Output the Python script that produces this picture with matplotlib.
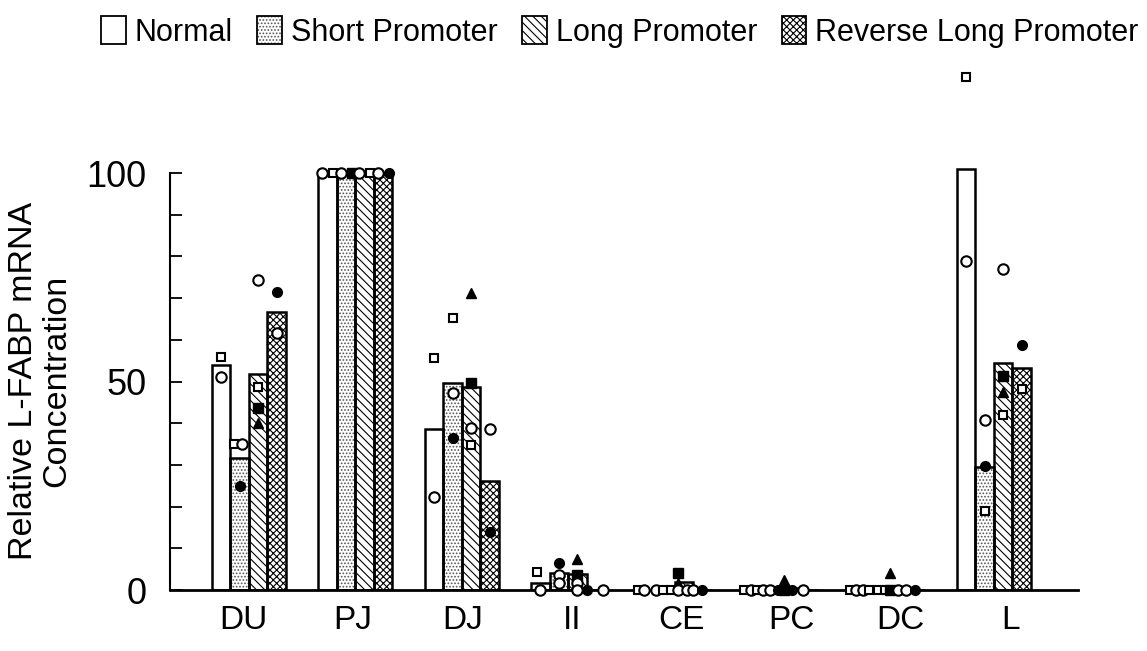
import matplotlib
matplotlib.use("Agg")
import matplotlib.pyplot as plt
from matplotlib.patches import Patch
import numpy as np

plt.rcParams['font.family'] = ['Liberation Sans', 'DejaVu Sans']
plt.rcParams['hatch.linewidth'] = 0.8

groups = ['DU', 'PJ', 'DJ', 'II', 'CE', 'PC', 'DC', 'L']
series = ['Normal', 'Short Promoter', 'Long Promoter', 'Reverse Long Promoter']

normal = [54.0, 100.0, 38.6, 1.7, 0.0, 0.0, 0.0, 101.0]
short_promoter = [31.6, 100.0, 49.6, 4.0, 0.0, 0.0, 0.0, 29.5]
long_promoter = [51.8, 100.0, 48.7, 3.8, 2.0, 0.5, 0.5, 54.4]
reverse_long = [66.6, 100.0, 26.1, 0.0, 0.0, 0.0, 0.0, 53.2]

# individual animals: (group, series, marker kind, value)
# kinds: 'o' open circle, 's' open square, 'S' filled square, 'O' filled circle, '^' filled triangle
points = [
    ('DU', 0, 's', 56.0), ('DU', 0, 'o', 51.0),
    ('DU', 1, 's', 35.0), ('DU', 1, 'o', 35.0), ('DU', 1, 'O', 25.0),
    ('DU', 2, 'o', 74.3), ('DU', 2, 's', 48.7), ('DU', 2, 'S', 43.6), ('DU', 2, '^', 40.0),
    ('DU', 3, 'O', 71.5), ('DU', 3, 'o', 61.6),
    ('PJ', 0, 'o', 100.0), ('PJ', 0, 's', 100.0),
    ('PJ', 1, 'o', 100.0), ('PJ', 1, 'S', 100.0),
    ('PJ', 2, 'o', 100.0), ('PJ', 2, 's', 100.0),
    ('PJ', 3, 'o', 100.0), ('PJ', 3, 'O', 100.0),
    ('DJ', 0, 's', 55.6), ('DJ', 0, 'o', 22.3),
    ('DJ', 1, 's', 65.2), ('DJ', 1, 'o', 47.2), ('DJ', 1, 'O', 36.5),
    ('DJ', 2, '^', 71.2), ('DJ', 2, 'S', 49.6), ('DJ', 2, 'o', 38.8), ('DJ', 2, 's', 34.8),
    ('DJ', 3, 'o', 38.6), ('DJ', 3, 'O', 13.9),
    ('II', 0, 's', 4.3), ('II', 0, 'o', 0.0),
    ('II', 1, 'O', 6.5), ('II', 1, 'o', 3.6), ('II', 1, 'o', 1.7),
    ('II', 2, '^', 7.4), ('II', 2, 'S', 3.6), ('II', 2, 'o', 1.7), ('II', 2, 'o', 0.0),
    ('II', 3, 'O', 0.0), ('II', 3, 'o', 0.0),
    ('CE', 0, 's', 0.0), ('CE', 0, 'o', 0.0),
    ('CE', 1, 'o', 0.0), ('CE', 1, 's', 0.0), ('CE', 1, 's', 0.0),
    ('CE', 2, 'S', 4.0), ('CE', 2, '^', 1.7), ('CE', 2, 'o', 0.0), ('CE', 2, 'o', 0.0),
    ('CE', 3, 'o', 0.0), ('CE', 3, 'O', 0.0),
    ('PC', 0, 's', 0.0), ('PC', 0, 'o', 0.0), ('PC', 0, 's', 0.0), ('PC', 0, 'o', 0.0),
    ('PC', 1, 'o', 0.0), ('PC', 1, 'O', 0.0),
    ('PC', 2, 'S', 0.0), ('PC', 2, '^', 2.4), ('PC', 2, 'O', 0.0),
    ('PC', 3, 'o', 0.0),
    ('DC', 0, 's', 0.0), ('DC', 0, 'o', 0.0), ('DC', 0, 'o', 0.0),
    ('DC', 1, 's', 0.0), ('DC', 1, 's', 0.0), ('DC', 1, 's', 0.0),
    ('DC', 2, 'S', 0.0), ('DC', 2, '^', 4.0), ('DC', 2, 'o', 0.0), ('DC', 2, 'o', 0.0),
    ('DC', 3, 'O', 0.0),
    ('L', 0, 's', 123.0), ('L', 0, 'o', 79.0),
    ('L', 1, 'o', 40.8), ('L', 1, 'O', 29.7), ('L', 1, 's', 19.0),
    ('L', 2, 'o', 77.0), ('L', 2, 'S', 51.3), ('L', 2, '^', 47.5), ('L', 2, 's', 42.0),
    ('L', 3, 'O', 58.8), ('L', 3, 's', 48.2),
]
# horizontal offsets of each point within its bar (fraction of bar width)
point_dx = [
    0.0, 0.0,
    -0.3, 0.15, 0.0,
    0.0, 0.0, 0.0, 0.0,
    0.0, 0.0,
    -0.3, 0.3, -0.3, 0.3, -0.3, 0.3, -0.3, 0.3,
    0.0, 0.0,
    0.0, 0.0, 0.0,
    0.0, 0.0, 0.0, 0.0,
    0.0, 0.0,
    -0.2, 0.0,
    0.0, 0.0, 0.0,
    0.0, 0.0, 0.0, 0.0,
    -0.5, 0.4,
    -0.5, -0.15,
    -0.5, -0.15, 0.3,
    -0.3, -0.3, -0.3, 0.15,
    -0.5, 0.0,
    -0.5, -0.15, 0.2, 0.5,
    -0.1, 0.35,
    -0.35, -0.35, 0.1,
    -0.3,
    -0.55, -0.2, 0.2,
    -0.5, 0.0, 0.35,
    -0.35, -0.35, 0.05, 0.5,
    0.0,
    0.0, 0.0,
    0.0, 0.0, 0.0,
    0.0, 0.0, 0.0, 0.0,
    0.0, 0.0,
]

values = [normal, short_promoter, long_promoter, reverse_long]
hatches = [None, '.....', '\\\\\\\\', 'xxxxx']
hatch_colors = ['black', '#555555', 'black', 'black']

fig = plt.figure(figsize=(11.47, 6.51), dpi=100)
ax = fig.add_axes([170 / 1147, 61 / 651, 908 / 1147, 542 / 651])

x = np.arange(len(groups))
w = 0.174
offsets = [-1.5 * w, -0.5 * w, 0.5 * w, 1.5 * w]

for k in range(4):
    xs = x + offsets[k]
    if hatches[k] is not None:
        ax.bar(xs, values[k], width=w, color='white', edgecolor=hatch_colors[k],
               linewidth=0, hatch=hatches[k], zorder=2)
    ax.bar(xs, values[k], width=w, fill=False, edgecolor='black', linewidth=1.8, zorder=3)

gidx = {g: i for i, g in enumerate(groups)}
style = {
    'o': dict(marker='o', ms=7.5, mfc='white', mec='black', mew=1.5),
    's': dict(marker='s', ms=6, mfc='white', mec='black', mew=1.5),
    'S': dict(marker='s', ms=6.5, mfc='black', mec='black', mew=1),
    'O': dict(marker='o', ms=7, mfc='black', mec='black', mew=1),
    '^': dict(marker='^', ms=7, mfc='black', mec='black', mew=1),
}
for (g, s, kind, v), dx in zip(points, point_dx):
    xp = gidx[g] + offsets[s] + dx * w
    ax.plot([xp], [v], linestyle='none', zorder=5, clip_on=False, **style[kind])

ax.set_xlim(-0.742, 7.79)
ax.set_ylim(0, 130)

for sp in ['top', 'right']:
    ax.spines[sp].set_visible(False)
ax.spines['left'].set_bounds(0, 100)
ax.spines['left'].set_linewidth(1.5)
ax.spines['bottom'].set_linewidth(2.0)

ax.set_yticks([0, 50, 100])
ax.set_yticks(np.arange(0, 101, 10), minor=True)
ax.tick_params(axis='y', which='both', direction='in', length=8.6, width=1.3)
ax.tick_params(axis='y', which='major', labelsize=26, pad=17)

label_pos = -0.056 + 1.030 * x
ax.set_xticks(label_pos)
ax.set_xticklabels(groups, fontsize=24)
ax.tick_params(axis='x', length=0, pad=11)

fig.text(40 / 1147, 1 - 381 / 651, 'Relative L-FABP mRNA\nConcentration',
         rotation=90, ha='center', va='center', fontsize=24.5, multialignment='center',
         linespacing=1.1)

handles = []
for k in range(4):
    if hatches[k] is None:
        handles.append(Patch(facecolor='white', edgecolor='black', linewidth=1.3))
    else:
        hp = Patch(facecolor='white', edgecolor=hatch_colors[k], linewidth=0, hatch=hatches[k])
        outline = Patch(facecolor='none', edgecolor='black', linewidth=1.3)
        handles.append((hp, outline))
fig.legend(handles, series, loc='center', bbox_to_anchor=(620 / 1147, 1 - 32 / 651),
           ncol=4, frameon=False, prop={'size': 22},
           handlelength=0.8, handleheight=1.0,
           handletextpad=0.3, columnspacing=0.8, borderaxespad=0)

fig.savefig('out.png', dpi=100)
